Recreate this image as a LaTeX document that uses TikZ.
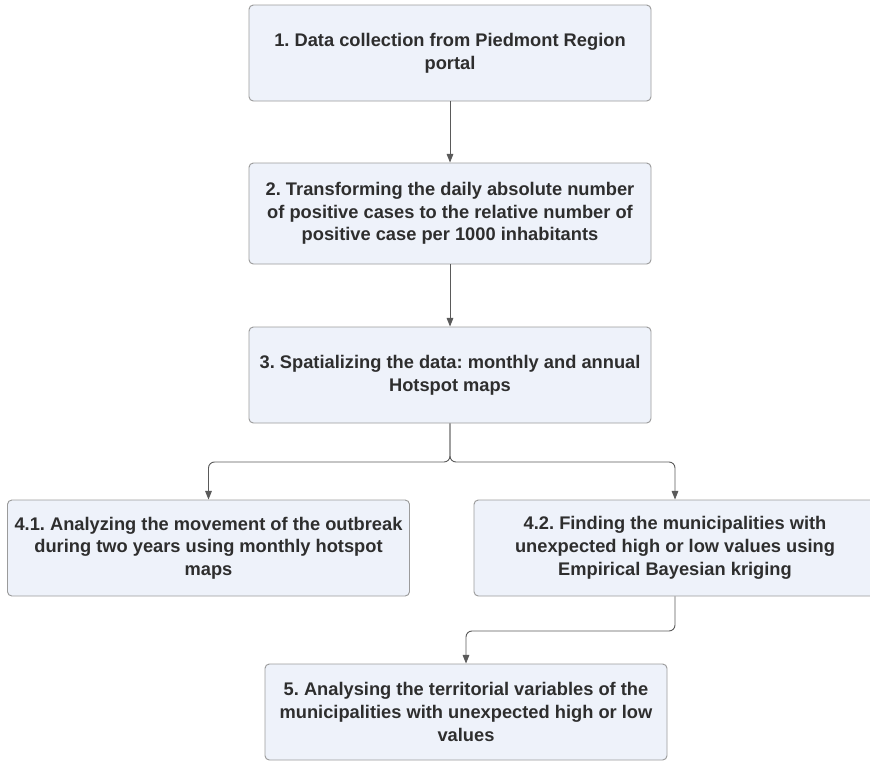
\documentclass[tikz,border=0pt]{standalone}
\usepackage{fontspec}
\setmainfont{Liberation Sans}
\usepackage{xcolor}
\usetikzlibrary{calc,arrows.meta}

\definecolor{boxfill}{HTML}{EEF2FA}
\definecolor{boxline}{HTML}{9B9B9B}
\definecolor{boxtext}{HTML}{2E2E2E}
\definecolor{linkline}{HTML}{5A5A5A}

\begin{document}
\frenchspacing
\begin{tikzpicture}[
        x=0.3mm, y=-0.3mm,
        stepbox/.style = {draw=boxline, line width=0.8pt, fill=boxfill, rectangle, rounded corners=1.3mm,
                          minimum width=120.6mm, minimum height=28.8mm, align=center,
                          text=boxtext, font=\fontsize{15.6}{19.4}\selectfont\bfseries},
        arrow/.style = {-{Triangle[length=2.6mm,width=2mm]}, draw=linkline, line width=0.8pt, rounded corners=1.8mm}
    ]
    \useasboundingbox (0,0) rectangle (870,761);

    % main chain in the middle
    \node[stepbox] (collect) at (450,53) {1. Data collection from Piedmont Region\\portal};
    \node[stepbox, minimum height=30.3mm] (transform) at (450,213.5) {2. Transforming the daily absolute number\\of positive cases to the relative number of\\positive case per 1000 inhabitants};
    \node[stepbox] (spatial) at (450,375) {3. Spatializing the data: monthly and annual\\Hotspot maps};

    % two analysis branches
    \node[stepbox] (movement) at (208.5,548) {4.1. Analyzing the movement of the outbreak\\during two years using monthly hotspot\\maps};
    \node[stepbox] (kriging) at (675,548) {4.2. Finding the municipalities with\\unexpected high or low values using\\Empirical Bayesian kriging};

    % last step
    \node[stepbox] (territory) at (466,712) {5. Analysing the territorial variables of the\\municipalities with unexpected high or low\\values};

    % split points
    \coordinate (split) at (450,462);
    \coordinate (join) at (675,631);

    % Draw arrows
    \draw[arrow] (collect) -- (transform);
    \draw[arrow] (transform) -- (spatial);
    \draw[arrow] (spatial.south) -- (split) -| (movement.north);
    \draw[arrow] (spatial.south) -- (split) -| (kriging.north);
    \draw[arrow] (kriging.south) -- (join) -| (territory.north);

\end{tikzpicture}
\end{document}
